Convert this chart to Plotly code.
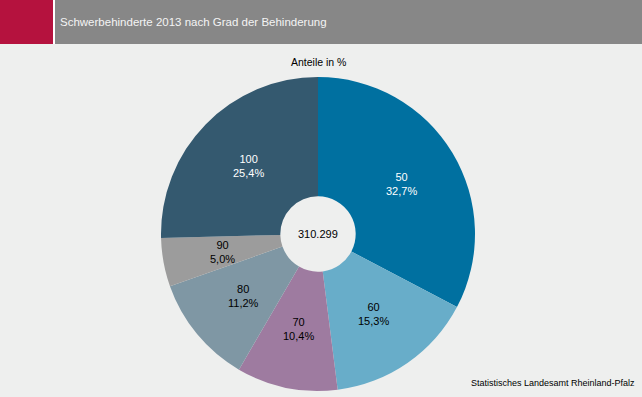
import math
import plotly.graph_objects as go

categories = ["50", "60", "70", "80", "90", "100"]
shares = [32.7, 15.3, 10.4, 11.2, 5.0, 25.4]
colors = ["#0070a0", "#68adc9", "#9e7ba0", "#7f97a4", "#9c9c9c", "#34596f"]
text_colors = ["#ffffff", "#000000", "#000000", "#000000", "#000000", "#ffffff"]
total_label = "310.299"
title = "Schwerbehinderte 2013 nach Grad der Behinderung"
subtitle = "Anteile in %"
source = "Statistisches Landesamt Rheinland-Pfalz"

W, H = 642, 397
cx, cy, R = 318, 234, 157
label_r = 97
FONT = "Arial, Liberation Sans, sans-serif"

fig = go.Figure(go.Pie(
    labels=categories,
    values=shares,
    sort=False,
    direction="clockwise",
    rotation=0,
    hole=0.24,
    marker=dict(colors=colors, line=dict(width=0)),
    textinfo="none",
    hoverinfo="skip",
    showlegend=False,
    domain=dict(x=[(cx - R) / W, (cx + R) / W], y=[1 - (cy + R) / H, 1 - (cy - R) / H]),
))

annotations = [
    dict(text=title, xref="paper", yref="paper", x=58 / W, y=1 - 22 / H,
         xanchor="left", yanchor="middle", showarrow=False,
         font=dict(size=11.5, color="#f4f4f4")),
    dict(text=subtitle, xref="paper", yref="paper", x=cx / W, y=1 - 62 / H,
         xanchor="center", yanchor="middle", showarrow=False,
         font=dict(size=10.5, color="#000000")),
    dict(text=total_label, xref="paper", yref="paper", x=cx / W, y=1 - cy / H,
         xanchor="center", yanchor="middle", showarrow=False,
         font=dict(size=11, color="#000000")),
    dict(text=source, xref="paper", yref="paper", x=637 / W, y=1 - 383 / H,
         xanchor="right", yanchor="middle", showarrow=False,
         font=dict(size=9, color="#000000")),
]

total = sum(shares)
cum = 0.0
for cat, val, tc in zip(categories, shares, text_colors):
    mid = (cum + val / 2) / total * 2 * math.pi
    cum += val
    px = cx + label_r * math.sin(mid)
    py = cy - label_r * math.cos(mid)
    annotations.append(dict(
        text=f"{cat}<br>{val:.1f}%".replace(".", ","),
        xref="paper", yref="paper", x=px / W, y=1 - py / H,
        xanchor="center", yanchor="middle", showarrow=False,
        font=dict(size=11, color=tc),
    ))

fig.update_layout(
    width=W, height=H,
    margin=dict(l=0, r=0, t=0, b=0),
    paper_bgcolor="#eeefee",
    plot_bgcolor="#eeefee",
    separators=",.",
    font=dict(family=FONT, size=11, color="#000000"),
    shapes=[
        dict(type="rect", xref="paper", yref="paper", x0=0, x1=53 / W, y0=1 - 44 / H, y1=1,
             fillcolor="#b5123e", line=dict(width=0), layer="below"),
        dict(type="rect", xref="paper", yref="paper", x0=55 / W, x1=1, y0=1 - 44 / H, y1=1,
             fillcolor="#878787", line=dict(width=0), layer="below"),
        dict(type="rect", xref="paper", yref="paper", x0=53 / W, x1=55 / W, y0=1 - 44 / H, y1=1,
             fillcolor="#ffffff", line=dict(width=0), layer="below"),
    ],
    annotations=annotations,
)

fig.write_html("out.html", config={"displayModeBar": False},
               post_script="document.body.style.margin='0px';")
